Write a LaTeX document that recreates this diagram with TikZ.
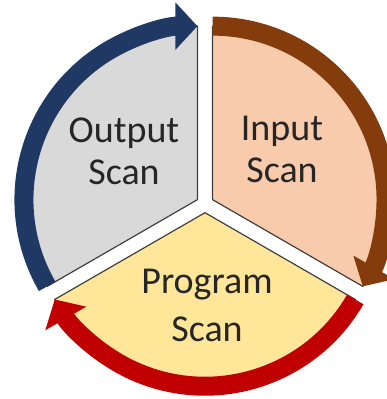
\documentclass[tikz,border=0pt]{standalone}
\usepackage{fontspec}
\setmainfont{Carlito}
\usetikzlibrary{arrows.meta}
\definecolor{outgrey}{HTML}{D9D9D9}
\definecolor{inpeach}{HTML}{F8CBAD}
\definecolor{progyellow}{HTML}{FFE699}
\definecolor{outblue}{HTML}{203864}
\definecolor{inbrown}{HTML}{843C0C}
\definecolor{progred}{HTML}{C00000}

\begin{document}
\begin{tikzpicture}[x=0.5pt, y=0.5pt, line join=round,
    sector/.style={draw=black!75, line width=0.6pt},
    band/.style={line width=9.5pt, -{Triangle[length=11pt, width=23pt]}},
    lbl/.style={font=\fontsize{19}{21}\selectfont, align=center, text=black!85, anchor=base}]
  \useasboundingbox (-205,-195) rectangle (181,204);
  % output scan
  \begin{scope}[shift={(150:8.7)}]
    \filldraw[sector, fill=outgrey] (0,0) -- (90:173.5) arc[start angle=90, end angle=210, radius=173.5] -- cycle;
    \draw[band, outblue] (210:173.5) arc[start angle=210, end angle=90, radius=173.5];
  \end{scope}
  % input scan
  \begin{scope}[shift={(30:8.7)}]
    \filldraw[sector, fill=inpeach] (0,0) -- (-30:173.5) arc[start angle=-30, end angle=90, radius=173.5] -- cycle;
    \draw[band, inbrown] (90:173.5) arc[start angle=90, end angle=-30, radius=173.5];
  \end{scope}
  % program scan
  \begin{scope}[shift={(270:8.7)}]
    \filldraw[sector, fill=progyellow] (0,0) -- (210:173.5) arc[start angle=210, end angle=330, radius=173.5] -- cycle;
    \draw[band, progred] (330:173.5) arc[start angle=330, end angle=210, radius=173.5];
  \end{scope}
  \node[lbl] (outtxt) at (-81,19) {Output\\Scan};
  \node[lbl] (intxt) at (77,21) {Input\\Scan};
  \node[lbl, font=\fontsize{19}{24}\selectfont] (progtxt) at (2,-138) {Program\\Scan};
\end{tikzpicture}
\end{document}
